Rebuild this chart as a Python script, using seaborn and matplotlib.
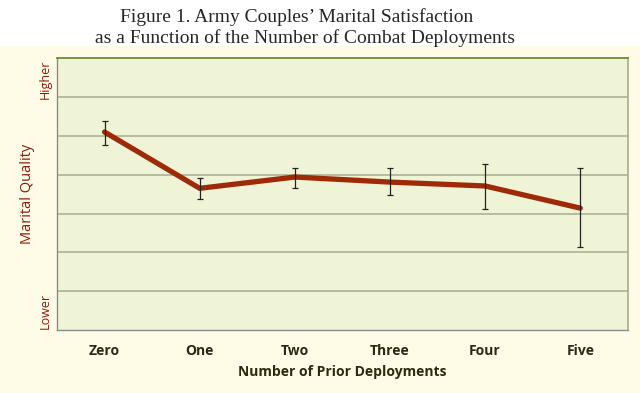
import pandas as pd
import matplotlib.pyplot as plt
import seaborn as sns
from matplotlib.patches import Rectangle

# values (y axis has no numbers, 0 = bottom, 7 = top)
deployments = ["Zero", "One", "Two", "Three", "Four", "Five"]
quality = [5.10, 3.65, 3.94, 3.81, 3.71, 3.14]
err_high = [5.38, 3.91, 4.17, 4.17, 4.27, 4.17]
err_low = [4.76, 3.37, 3.65, 3.47, 3.11, 2.14]

df = pd.DataFrame({"Deployments": deployments, "Quality": quality})

sns.set_style("white")
plt.rcParams["font.family"] = ["DejaVu Sans"]

fig = plt.figure(figsize=(6.4, 3.93), dpi=100)
fig.patch.set_facecolor("#fefce6")
# white band behind the title
fig.patches.append(Rectangle((0, 0.883), 1, 0.117, transform=fig.transFigure,
                             facecolor="white", edgecolor="none", zorder=0))

ax = fig.add_axes([0.089, 0.160, 0.892, 0.692])
ax.set_facecolor("#eff4d7")

sns.lineplot(x="Deployments", y="Quality", data=df, ax=ax, color="#9e2a08",
             linewidth=3.8, solid_capstyle="round", zorder=3)

xs = range(len(deployments))
lower = [q - lo for q, lo in zip(quality, err_low)]
upper = [hi - q for q, hi in zip(quality, err_high)]
ax.errorbar(xs, quality, yerr=[lower, upper], fmt="none", ecolor="#222222",
            elinewidth=0.9, capsize=2.5, capthick=0.9, zorder=4)

ax.set_xlim(-0.5, 5.5)
ax.set_ylim(0, 7)
ax.set_yticks(range(0, 8))
ax.set_yticklabels([])
for y in range(1, 7):
    ax.axhline(y, color="#a5ae8e", linewidth=1.1, zorder=1)

ax.tick_params(axis="y", direction="out", length=4, color="#8c8c8c", width=0.8, pad=2)
ax.set_xticks([x + 0.5 for x in range(-1, 6)], minor=True)
ax.tick_params(axis="x", which="minor", direction="out", length=4, color="#a0a0a0", width=0.8)
ax.tick_params(axis="x", which="major", length=0, pad=10)
ax.set_xticks(list(xs))
ax.set_xticklabels(deployments, fontsize=10, fontweight="bold", color="#2e2a10",
                   family="Open Sans")

for side in ["left", "bottom"]:
    ax.spines[side].set_color("#8c8c8c")
    ax.spines[side].set_linewidth(1.0)
ax.spines["right"].set_color("#a5ae8e")
ax.spines["right"].set_linewidth(1.2)
ax.spines["top"].set_color("#6f8a30")
ax.spines["top"].set_linewidth(1.3)

ax.set_xlabel("Number of Prior Deployments", fontsize=10, fontweight="bold",
              color="#2e2a10", family="Open Sans", labelpad=5)
ax.set_ylabel("Marital Quality", fontsize=10.5, color="#8b1a0c", family="Open Sans",
              labelpad=10)

ax.text(-0.01, 6.45, "Higher", rotation=90, ha="right", va="center", fontsize=9,
        color="#8b1a0c", family="Open Sans", transform=ax.get_yaxis_transform())
ax.text(-0.01, 0.5, "Lower", rotation=90, ha="right", va="center", fontsize=9,
        color="#8b1a0c", family="Open Sans", transform=ax.get_yaxis_transform())

fig.text(0.463, 0.957, "Figure 1. Army Couples\u2019 Marital Satisfaction",
         ha="center", va="center", fontsize=14, family="Liberation Serif")
fig.text(0.477, 0.903, "as a Function of the Number of Combat Deployments",
         ha="center", va="center", fontsize=14, family="Liberation Serif")

fig.savefig("out.png", dpi=100, facecolor=fig.get_facecolor())
